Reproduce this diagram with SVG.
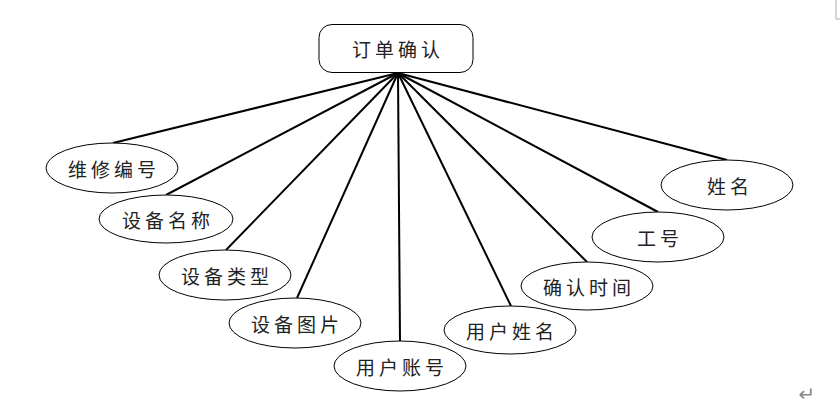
<svg xmlns="http://www.w3.org/2000/svg" width="840" height="411" viewBox="0 0 840 411">
<style>
.n{fill:#fff;stroke:#000;stroke-width:1}
.t{font-family:"Noto Sans CJK SC","Noto Sans",sans-serif;font-size:19px;fill:#222;text-anchor:middle;dominant-baseline:central;letter-spacing:4px}
.c line{stroke:#000;stroke-width:2}
</style>
<rect width="840" height="411" fill="#fff"/>
<path d="M836 0V19H840" fill="none" stroke="#aaa" stroke-width="1"/>
<g class="c" id="connectors">
<line x1="398" y1="73" x2="113" y2="143"/>
<line x1="398" y1="73" x2="166" y2="195"/>
<line x1="398" y1="73" x2="226" y2="250"/>
<line x1="398" y1="73" x2="297" y2="298"/>
<line x1="398" y1="73" x2="400" y2="341"/>
<line x1="398" y1="73" x2="511" y2="306"/>
<line x1="398" y1="73" x2="587" y2="262"/>
<line x1="398" y1="73" x2="658" y2="212"/>
<line x1="398" y1="73" x2="727" y2="160"/>
</g>
<g id="root"><rect class="n" x="319" y="24.5" width="154" height="48" rx="13"/><text class="t" x="398" y="48">订单确认</text></g>
<g id="n1"><ellipse class="n" cx="112" cy="168" rx="66" ry="25"/><text class="t" x="114" y="168">维修编号</text></g>
<g id="n2"><ellipse class="n" cx="166" cy="219" rx="67" ry="24"/><text class="t" x="168" y="219">设备名称</text></g>
<g id="n3"><ellipse class="n" cx="225" cy="275" rx="66" ry="25"/><text class="t" x="227" y="275">设备类型</text></g>
<g id="n4"><ellipse class="n" cx="295" cy="323" rx="66" ry="25"/><text class="t" x="297" y="323">设备图片</text></g>
<g id="n5"><ellipse class="n" cx="400" cy="366" rx="66" ry="25"/><text class="t" x="402" y="366">用户账号</text></g>
<g id="n6"><ellipse class="n" cx="510" cy="330" rx="66" ry="24"/><text class="t" x="512" y="330">用户姓名</text></g>
<g id="n7"><ellipse class="n" cx="587" cy="286" rx="66" ry="24"/><text class="t" x="589" y="286">确认时间</text></g>
<g id="n8"><ellipse class="n" cx="658" cy="237" rx="66" ry="25"/><text class="t" x="660" y="237" letter-spacing="7">工号</text></g>
<g id="n9"><ellipse class="n" cx="727" cy="185" rx="66" ry="25"/><text class="t" x="730" y="185" letter-spacing="7">姓名</text></g>
<text x="807" y="401" font-family="DejaVu Sans,sans-serif" font-size="20" fill="#888" text-anchor="middle">↵</text>
</svg>
